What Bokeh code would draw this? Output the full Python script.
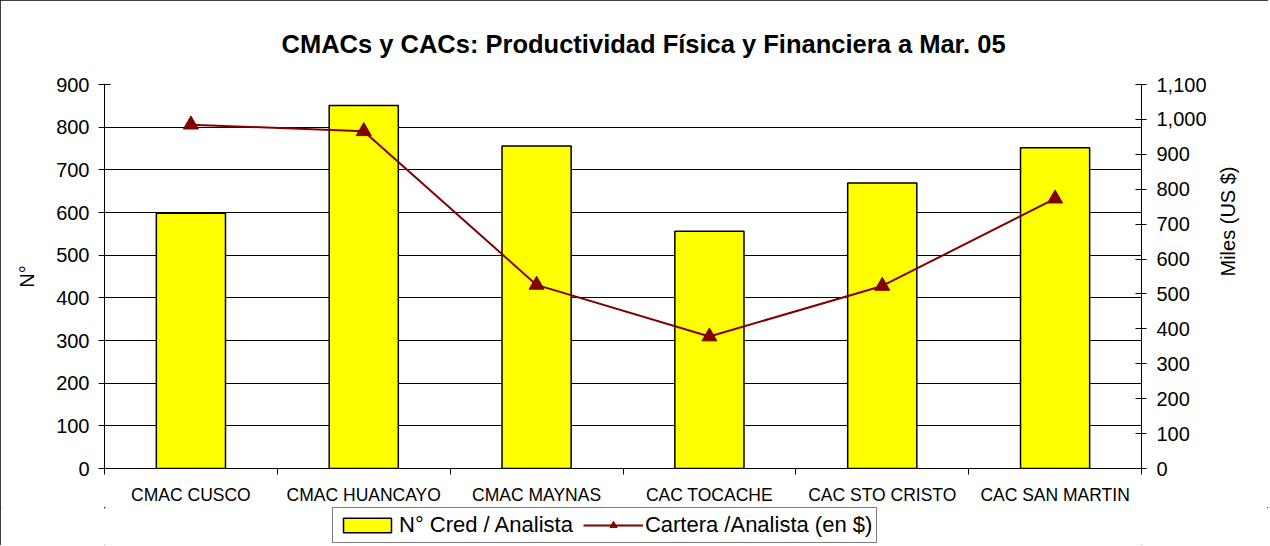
import math
from bokeh.plotting import figure
from bokeh.layouts import column
from bokeh.models import (Range1d, LinearAxis, FixedTicker, NumeralTickFormatter,
                          Legend, LegendItem, ColumnDataSource)
from bokeh.embed import file_html
from bokeh.resources import INLINE

categories = ["CMAC CUSCO", "CMAC HUANCAYO", "CMAC MAYNAS", "CAC TOCACHE", "CAC STO CRISTO", "CAC SAN MARTIN"]
cred_analista = [598, 851, 756, 556, 669, 752]
cartera_analista = [985, 966, 526, 378, 523, 773]
left_ticks = list(range(0, 901, 100))
right_ticks = list(range(0, 1101, 100))

title_text = "CMACs y CACs: Productividad Física y Financiera a  Mar. 05"
series_names = ["N° Cred / Analista", "Cartera /Analista (en $)"]
FONT = "Liberation Sans"

n = len(categories)
xpos = [i + 0.5 for i in range(n)]          # category centres on a 0..n axis
bounds = list(range(n + 1))                 # category boundaries (tick marks)

src = ColumnDataSource(dict(x=xpos, cred=cred_analista, cart=cartera_analista))

p = figure(width=1268, height=507, x_range=Range1d(0, n), y_range=Range1d(0, 900),
           output_backend="svg", toolbar_location=None, x_axis_location=None, y_axis_location=None,
           min_border_left=104, min_border_right=127, min_border_top=84, min_border_bottom=38)
p.extra_y_ranges = {"r": Range1d(0, 1100)}
p.outline_line_color = None
p.background_fill_color = "white"
p.border_fill_color = "white"

# title
p.title.text = title_text
p.title.text_font = FONT
p.title.text_font_size = "25.5px"
p.title.text_font_style = "bold"
p.title.text_color = "black"
p.title.align = "left"
p.title.offset = 177
p.title.standoff = 54

# left axis
yl = LinearAxis(ticker=FixedTicker(ticks=left_ticks), axis_label="N°")
yl.major_tick_in = 6
yl.major_tick_out = 6
yl.minor_tick_line_color = None
yl.major_label_standoff = 9
yl.major_label_text_font = FONT
yl.major_label_text_font_size = "20px"
yl.major_label_text_color = "black"
yl.axis_line_color = "black"
yl.major_tick_line_color = "black"
yl.axis_label_standoff = 15
yl.axis_label_text_font = FONT
yl.axis_label_text_font_size = "20px"
yl.axis_label_text_font_style = "normal"
yl.axis_label_text_color = "black"
p.add_layout(yl, "left")

# right axis
yr = LinearAxis(y_range_name="r", ticker=FixedTicker(ticks=right_ticks),
                formatter=NumeralTickFormatter(format="0,0"), axis_label="Miles (US $)")
yr.major_tick_in = 6
yr.major_tick_out = 5
yr.minor_tick_line_color = None
yr.major_label_standoff = 10
yr.major_label_text_font = FONT
yr.major_label_text_font_size = "20px"
yr.major_label_text_color = "black"
yr.axis_line_color = "black"
yr.major_tick_line_color = "black"
yr.axis_label_standoff = 18
yr.axis_label_orientation = math.pi / 2
yr.axis_label_text_font = FONT
yr.axis_label_text_font_size = "20px"
yr.axis_label_text_font_style = "normal"
yr.axis_label_text_color = "black"
p.add_layout(yr, "right")

# bottom axis: labels at category centres, tick marks at category boundaries
xc = LinearAxis(ticker=FixedTicker(ticks=xpos, minor_ticks=bounds),
                major_label_overrides={x: c for x, c in zip(xpos, categories)})
xc.axis_line_color = "black"
xc.major_tick_line_color = None
xc.major_tick_out = 6
xc.major_tick_in = 0
xc.minor_tick_line_color = "black"
xc.minor_tick_out = 6
xc.minor_tick_in = 0
xc.major_label_standoff = 10
xc.major_label_text_font = FONT
xc.major_label_text_font_size = "17.5px"
xc.major_label_text_color = "black"
p.add_layout(xc, "below")

# grid
p.xgrid.grid_line_color = None
p.ygrid.ticker = FixedTicker(ticks=left_ticks)
p.ygrid.grid_line_color = "black"
p.ygrid.grid_line_width = 1

bar_style = dict(fill_color="#FFFF00", line_color="black", line_width=1.5)
line_style = dict(line_color="#800000", line_width=2)
mark_style = dict(marker="triangle", size=15, fill_color="#800000", line_color="#800000")

p.vbar(x="x", top="cred", width=0.4, source=src, **bar_style)
p.line(x="x", y="cart", source=src, y_range_name="r", **line_style)
p.scatter(x="x", y="cart", source=src, y_range_name="r", **mark_style)

# legend strip below the chart: same series, drawn outside its visible ranges so only
# the legend shows (its frame is aligned with the main chart's frame by the column layout)
lf = figure(width=1268, height=38, x_range=Range1d(1000, 1001), y_range=Range1d(-1001, -1000),
            title=None, output_backend="svg", toolbar_location=None,
            x_axis_location=None, y_axis_location=None,
            min_border_left=0, min_border_right=0, min_border_top=0, min_border_bottom=0)
lf.outline_line_color = None
lf.xgrid.grid_line_color = None
lf.ygrid.grid_line_color = None
lf.background_fill_color = "white"
lf.border_fill_color = "white"
lb = lf.vbar(x="x", top="cred", width=0.4, source=src, **bar_style)
ll = lf.line(x="x", y="cart", source=src, **line_style)
lm = lf.scatter(x="x", y="cart", source=src, **mark_style)

legend = Legend(items=[LegendItem(label=series_names[0], renderers=[lb]),
                       LegendItem(label=series_names[1], renderers=[ll, lm])],
                location=(228, 2), orientation="horizontal")
legend.border_line_color = "black"
legend.border_line_width = 1
legend.background_fill_color = "white"
legend.background_fill_alpha = 1
legend.label_text_font = FONT
legend.label_text_font_size = "22px"
legend.label_text_color = "black"
legend.glyph_width = 60
legend.glyph_height = 18
legend.label_standoff = 2
legend.spacing = 10
legend.padding = 4
legend.margin = 0
lf.add_layout(legend, "center")

layout = column(p, lf, spacing=0)
layout.styles = {"outline": "1px solid black", "outline-offset": "-1px"}

open("out.html", "w").write(file_html(layout, INLINE))
